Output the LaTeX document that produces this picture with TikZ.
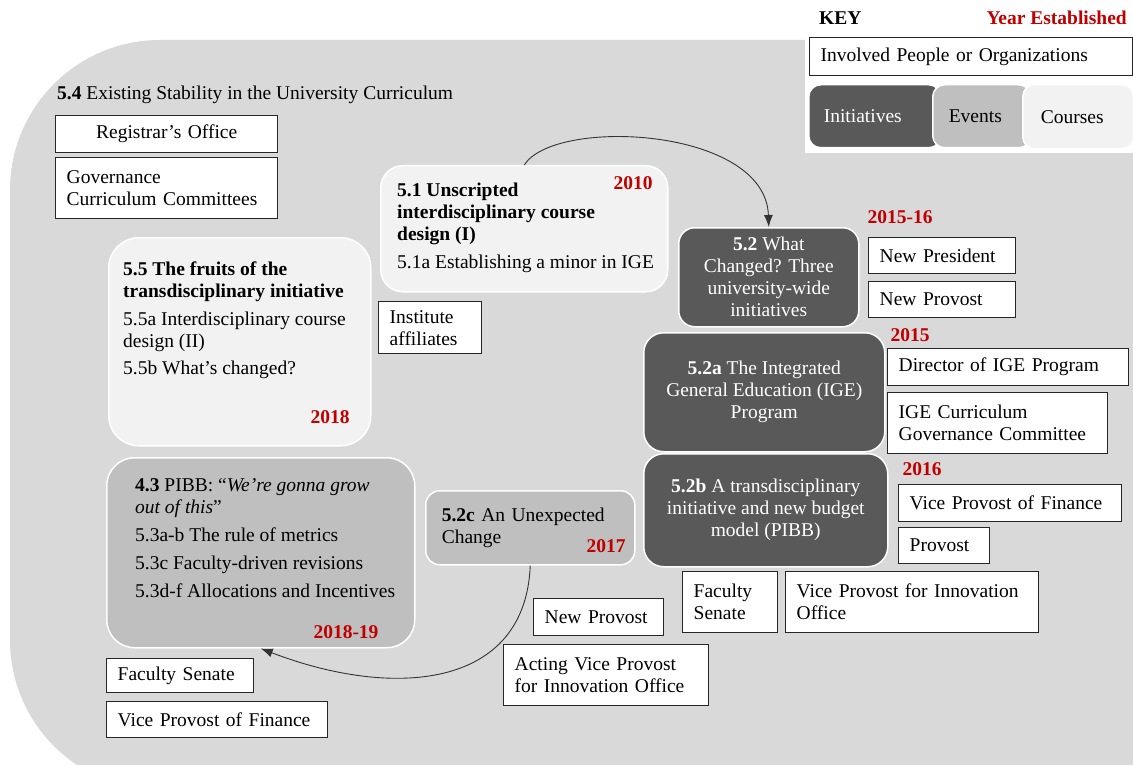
\documentclass[tikz,border=0pt]{standalone}
\usepackage{fontspec}
\setmainfont{Liberation Serif}
\usetikzlibrary{arrows.meta}
\definecolor{bggray}{HTML}{D9D9D9}
\definecolor{initgray}{HTML}{595959}
\definecolor{eventgray}{HTML}{BFBFBF}
\definecolor{coursegray}{HTML}{F2F2F2}
\definecolor{yearred}{HTML}{C00000}
\newcommand{\dfont}{\fontsize{19.5}{22}\selectfont}
\tikzset{
  person/.style={draw=black!85,line width=1.4pt,fill=white,anchor=north west,inner xsep=11pt,inner ysep=2pt,align=left},
  initiative/.style={draw=white,line width=1.5pt,fill=initgray,text=white,rounded corners=18pt,anchor=north west,align=center,inner sep=0pt},
  event/.style={draw=white,line width=1.5pt,fill=eventgray,rounded corners=14pt,anchor=north west,inner sep=0pt},
  course/.style={draw=white,line width=1.5pt,fill=coursegray,rounded corners=22pt,anchor=north west,inner sep=0pt},
  yr/.style={text=yearred,font=\dfont\bfseries,inner sep=0pt},
  body/.style={anchor=north west,align=left,inner sep=0pt},
  link/.style={black!80,line width=0.9pt,-{Latex[length=12pt,width=9pt]}},
}
\begin{document}
\begin{tikzpicture}[x=1pt,y=-1pt,every node/.style={font=\dfont}]
\useasboundingbox (0,0) rectangle (1133,765);
\clip (0,0) rectangle (1133,765);
% background
\fill[bggray,rounded corners=150pt] (10,40) rectangle (1300,790);
% key
\fill[white] (805,0) rectangle (1133,153);
\node[anchor=west,font=\dfont\bfseries,inner sep=0pt] (keyttl) at (819,18) {KEY};
\node[anchor=east,font=\dfont\bfseries,text=yearred,inner sep=0pt] (keyyr) at (1127,18) {Year Established};
\node[person,text width=301pt,minimum height=38pt] (keyppl) at (809,37) {Involved People or Organizations};
\node[initiative,rounded corners=12pt,text width=102pt,inner xsep=15pt,align=left,minimum height=63pt] (keyini) at (808,84) {Initiatives};
\node[event,rounded corners=12pt,text width=66pt,inner xsep=16pt,align=left,minimum height=63pt] (keyevt) at (932,84) {Events};
\node[course,rounded corners=12pt,text width=75pt,inner xsep=18pt,align=left,minimum height=64pt] (keycrs) at (1022,84) {Courses};
% 5.4
\node[anchor=west,inner sep=0pt] (c54) at (57,95) {\textbf{5.4} Existing Stability in the University Curriculum};
\node[person,align=center,text width=200pt,minimum height=37pt] (reg) at (55,115) {Registrar’s Office};
\node[person,text width=200pt,minimum height=61pt] (gov) at (55,157) {Governance\\Curriculum Committees};
% 5.1
\node[course,minimum width=287pt,minimum height=126pt] (c51) at (380,165) {};
\node[body] (c51txt) at (397,183) {\textbf{5.1 Unscripted}\\\textbf{interdisciplinary course}\\\textbf{design (I)}\\[6pt]5.1a Establishing a minor in IGE};
\node[yr] (y51) at (633,183) {2010};
% 5.5
\node[course,rounded corners=30pt,minimum width=262pt,minimum height=208pt] (c55) at (108,237) {};
\node[body] (c55txt) at (123,262) {\textbf{5.5 The fruits of the}\\\textbf{transdisciplinary initiative}\\[6pt]5.5a Interdisciplinary course\\design (II)\\[5pt]5.5b What’s changed?};
\node[yr] (y55) at (330,417) {2018};
\node[person,text width=81pt,minimum height=52pt] (inst) at (378,301) {Institute\\affiliates};
% 4.3
\node[event,rounded corners=28pt,minimum width=308pt,minimum height=190pt] (c43) at (106,457) {};
\node[body] (c43txt) at (135,478) {\textbf{4.3} PIBB: “\textit{We’re gonna grow}\\\textit{out of this}”\\[6pt]5.3a-b The rule of metrics\\[6pt]5.3c Faculty-driven revisions\\[6pt]5.3d-f Allocations and Incentives};
\node[yr] (y43) at (346,632) {2018-19};
\node[person,text width=125pt,minimum height=34pt] (fs2) at (106,658) {Faculty Senate};
\node[person,text width=199pt,minimum height=36pt] (vpf2) at (106,701) {Vice Provost of Finance};
% 5.2c
\node[event,minimum height=74pt,text width=177pt,inner xsep=16pt,align=left] (c52c) at (425,490) {\textbf{5.2c} An Unexpected\\Change};
\node[yr] (y52c) at (606,546) {2017};
\node[person,text width=108pt,minimum height=37pt] (nprov2) at (533,598) {New Provost};
\node[person,text width=183pt,minimum height=61pt] (avpio) at (503,644) {Acting Vice Provost\\for Innovation Office};
% 5.2
\node[initiative,minimum width=180pt,minimum height=99pt,rounded corners=16pt] (c52) at (678,227) {\textbf{5.2} What\\Changed? Three\\university-wide\\initiatives};
\node[yr] (y52) at (900,217) {2015-16};
\node[person,text width=125pt,minimum height=36pt] (npres) at (868,237) {New President};
\node[person,text width=125pt,minimum height=36pt] (nprov) at (868,281) {New Provost};
% 5.2a
\node[initiative,minimum width=241pt,minimum height=119pt,rounded corners=20pt] (c52a) at (643,332) {\textbf{5.2a} The Integrated\\General Education (IGE)\\Program};
\node[yr] (y52a) at (910,335) {2015};
\node[person,text width=219pt,minimum height=37pt] (dir) at (887,348) {Director of IGE Program};
\node[person,text width=198pt,minimum height=61pt] (igecc) at (887,392) {IGE Curriculum\\Governance Committee};
% 5.2b
\node[initiative,minimum width=244pt,minimum height=113pt,rounded corners=20pt] (c52b) at (643,453) {\textbf{5.2b} A transdisciplinary\\initiative and new budget\\model (PIBB)};
\node[yr] (y52b) at (922,469) {2016};
\node[person,text width=201pt,minimum height=37pt] (vpf1) at (898,484) {Vice Provost of Finance};
\node[person,text width=69pt,minimum height=36pt] (prov) at (898,527) {Provost};
\node[person,text width=73pt,minimum height=61pt] (fs1) at (682,571) {Faculty\\Senate};
\node[person,text width=231pt,minimum height=61pt] (vpio) at (785,571) {Vice Provost for Innovation\\Office};
% arrows
\draw[link] (c51.north) .. controls +(30,-48) and +(-3,-100) .. (c52.north);
\draw[link] (c52c.south) .. controls +(-5,125) and +(130,50) .. (c43.south);
\end{tikzpicture}
\end{document}
